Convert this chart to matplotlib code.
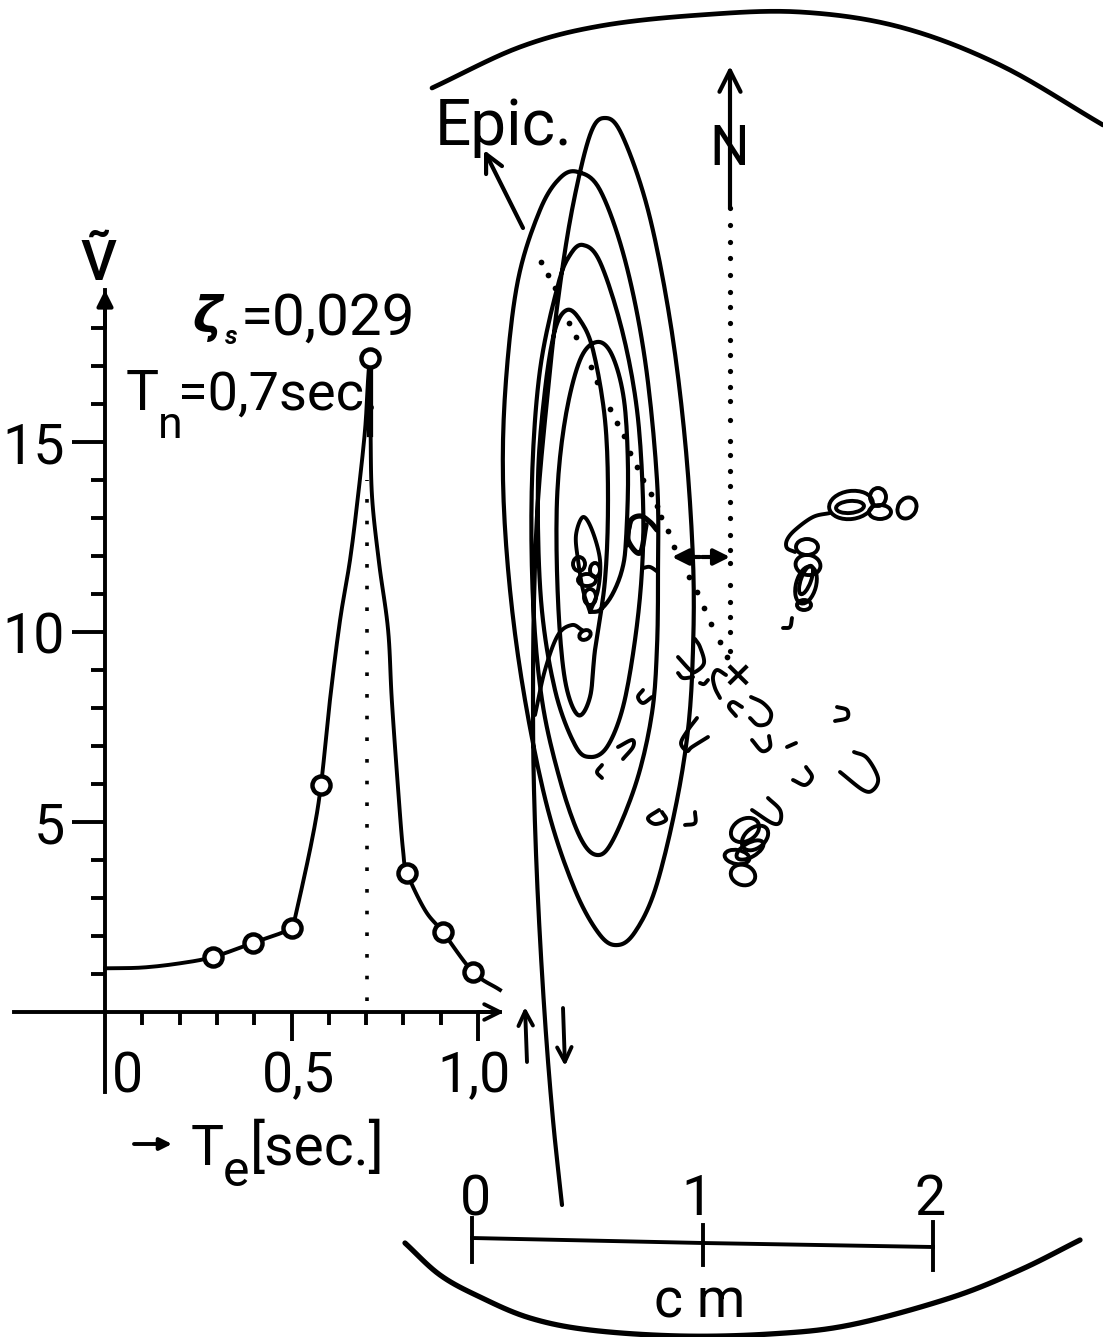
#!/usr/bin/env python3
import numpy as np
import matplotlib
matplotlib.use('Agg')
import matplotlib.pyplot as plt
from matplotlib.patches import Ellipse

plt.rcParams['font.family'] = ['Roboto', 'DejaVu Sans']

# resonance curve: T_e [sec], V, rising and falling side
rise_t = [0.0, 0.1, 0.2, 0.29, 0.397, 0.5, 0.51, 0.555, 0.579, 0.603, 0.63, 0.657, 0.678, 0.697, 0.705, 0.71]
rise_v = [1.15, 1.17, 1.28, 1.45, 1.82, 2.2, 2.5, 4.53, 5.97, 8.2, 10.3, 11.9, 13.55, 15.3, 16.6, 17.2]
fall_t = [0.71, 0.712, 0.716, 0.735, 0.759, 0.769, 0.786, 0.799, 0.81, 0.858, 0.906, 0.987, 1.059]
fall_v = [17.2, 15.3, 13.55, 11.8, 10.05, 8.2, 5.84, 4.26, 3.66, 2.68, 2.1, 1.05, 0.58]
points_t = [0.29, 0.397, 0.50, 0.579, 0.71, 0.81, 0.906, 0.987]
points_v = [1.45, 1.82, 2.2, 5.97, 17.2, 3.66, 2.1, 1.05]
t_natural = 0.702

# ground motion trace, in scan units (231 per cm)
spiral = [(562, 1205), (553, 1120), (545, 1020), (538, 900), (534, 790), (533, 700), (534, 600), (538, 500),
          (548, 390), (558, 300), (572, 210), (590, 135), (605, 118), (622, 135), (648, 210), (670, 320),
          (685, 440), (693, 560), (693, 650), (688, 730), (675, 810), (655, 890), (635, 932), (618, 945),
          (600, 935), (575, 890), (548, 810), (525, 700), (510, 590), (503, 480), (506, 380), (518, 280),
          (540, 210), (560, 178), (578, 172), (600, 190), (625, 260), (645, 360), (657, 480), (658, 570),
          (657, 647), (652, 713), (637, 780), (613, 840), (597, 855), (580, 837), (560, 780), (542, 700),
          (533, 600), (532, 480), (540, 370), (558, 285), (570, 255), (583, 245), (600, 262), (622, 330),
          (637, 410), (643, 500), (642, 570), (635, 640), (623, 707), (607, 747), (590, 757), (575, 745),
          (555, 690), (541, 600), (538, 480), (545, 390), (555, 330), (567, 310), (580, 320), (593, 350),
          (605, 420), (608, 500), (605, 580), (595, 650), (590, 697), (578, 715), (565, 680), (558, 600),
          (557, 500), (565, 420), (580, 360), (597, 342), (612, 355), (624, 400), (628, 470), (626, 540),
          (622, 570), (612, 595), (600, 610), (590, 612)]
stem = [(535, 715), (545, 670), (558, 635), (572, 625), (582, 630)]
thread = [(830, 513), (813, 517), (795, 530), (787, 540), (787, 548), (795, 552)]
blob = [(627, 545), (630, 522), (640, 516), (650, 522), (657, 530)]
blob2 = [(630, 522), (628, 540), (640, 553), (646, 525)]
link = [(643, 568), (650, 567), (658, 572)]
petal = [(590, 612), (583, 590), (578, 560), (576, 535), (583, 517), (592, 530), (600, 560), (598, 590), (590, 612)]

curls = [
    [(678, 657), (690, 670), (695, 672), (704, 663), (700, 647), (695, 639)],
    [(678, 673), (683, 678), (693, 677)],
    [(700, 683), (704, 684), (708, 680)],
    [(726, 675), (717, 670), (713, 677), (715, 688), (720, 698)],
    [(742, 707), (733, 702), (729, 707), (736, 716)],
    [(751, 697), (763, 703), (771, 713), (768, 723), (758, 725), (750, 718)],
    [(752, 740), (762, 751), (770, 747), (769, 736)],
    [(787, 747), (796, 743)],
    [(837, 707), (847, 710), (847, 718), (835, 721)],
    [(854, 752), (867, 758), (878, 778), (873, 790), (863, 790), (840, 772)],
    [(806, 767), (812, 777), (805, 785), (793, 780)],
    [(768, 798), (780, 810), (780, 822), (772, 823), (752, 810)],
    [(659, 810), (648, 818), (655, 824), (666, 820), (662, 812)],
    [(695, 812), (695, 823), (685, 825)],
    [(643, 690), (638, 697), (643, 703), (652, 697)],
    [(618, 747), (632, 740), (633, 747), (623, 759)],
    [(602, 765), (597, 772), (602, 778)],
    [(783, 628), (790, 627), (792, 618)],
    [(697, 718), (688, 730), (681, 743), (687, 751), (692, 747), (708, 737)],
]

# small loops: x, y, width, height, angle
loops = [(850, 507, 28, 12, -5), (851, 505, 44, 28, -8), (878, 497, 16, 18, 0), (880, 512, 22, 14, 0),
         (907, 508, 18, 22, 30), (807, 547, 22, 16, 0), (808, 565, 25, 20, 10), (806, 585, 20, 38, 15),
         (806, 580, 10, 30, 20), (804, 605, 14, 10, 0), (745, 830, 30, 22, -30), (755, 838, 30, 20, -40),
         (750, 850, 30, 14, -30), (737, 857, 25, 14, 10), (743, 875, 25, 20, 20), (579, 564, 12, 14, 0),
         (595, 570, 10, 14, 0), (587, 580, 18, 12, 0), (590, 597, 12, 16, 0), (585, 635, 12, 9, -30)]

north_dots_y = [208, 225, 242, 258, 275, 292, 307, 323, 340, 355, 371, 387, 401, 420, 441, 455, 471, 486, 502,
                518, 535, 550, 563, 585, 602, 617, 632, 651]
path_dots_x = [541, 548, 555, 569, 576, 591, 597, 610, 617, 624, 630, 637, 643, 651, 657, 661, 668, 674, 689,
               697, 704, 711, 720, 727]
path_dots_y = [262, 275, 288, 323, 337, 367, 382, 409, 423, 436, 453, 467, 480, 494, 506, 517, 531, 547, 577,
               592, 608, 624, 642, 657]

arc_top = [(432, 88), (520, 47), (600, 26), (700, 15), (800, 12), (900, 27), (1000, 65), (1103, 125)]
arc_bottom = [(405, 1243), (440, 1275), (480, 1297), (530, 1318), (590, 1330), (680, 1336), (770, 1334),
              (850, 1325), (950, 1298), (1020, 1270), (1080, 1240)]

scale_cm = [0, 1, 2]
scale_x = [472, 703, 933]
scale_y = [1238, 1243, 1247]
scale_top = [1218, 1225, 1222]
scale_bottom = [1262, 1265, 1270]
scale_label_x = [475, 697, 930]


def smooth(pts, n=10):
    # catmull-rom through the points
    p = np.array(pts, dtype=float)
    if len(p) < 3:
        return p[:, 0], p[:, 1]
    p = np.vstack([2 * p[0] - p[1], p, 2 * p[-1] - p[-2]])
    out = []
    for i in range(1, len(p) - 2):
        for s in np.linspace(0, 1, n, endpoint=False):
            out.append(0.5 * (2 * p[i] + (p[i + 1] - p[i - 1]) * s
                              + (2 * p[i - 1] - 5 * p[i] + 4 * p[i + 1] - p[i + 2]) * s ** 2
                              + (3 * p[i] - p[i - 1] - 3 * p[i + 1] + p[i + 2]) * s ** 3))
    out.append(p[-2])
    out = np.array(out)
    return out[:, 0], out[:, 1]


fig = plt.figure(figsize=(11.03, 13.37), dpi=100, facecolor='white')

# map part, whole canvas in scan units
ax = fig.add_axes([0, 0, 1, 1])
ax.set_xlim(0, 1103)
ax.set_ylim(1337, 0)
ax.axis('off')


def draw(pts, lw=2.8):
    x, y = smooth(pts)
    ax.plot(x, y, color='black', lw=lw, solid_capstyle='round', solid_joinstyle='round')


def arrow(start, end, style='-|>', lw=2.8, scale=24):
    ax.annotate('', xy=end, xytext=start,
                arrowprops=dict(arrowstyle=style, color='black', lw=lw, mutation_scale=scale,
                                shrinkA=0, shrinkB=0))


draw(spiral, 3.0)
for part in [stem, thread, link, petal]:
    draw(part)
for part in [blob, blob2]:
    draw(part, 3.8)
for c in curls:
    draw(c, 2.8)
for x, y, w, h, ang in loops:
    ax.add_patch(Ellipse((x, y), w, h, angle=ang, fill=False, ec='black', lw=2.8))

ax.scatter([730] * len(north_dots_y), north_dots_y, s=14, color='black', lw=0)
ax.scatter(path_dots_x, path_dots_y, s=17, color='black', lw=0)
ax.text(738, 676, '×', fontsize=26, fontweight='bold', ha='center', va='center', family='DejaVu Sans')

draw(arc_top, 3.4)
draw(arc_bottom, 3.8)

arrow((730, 208), (730, 66), style='->', scale=38, lw=3)
arrow((523, 228), (484, 150), style='->', scale=32, lw=3)
arrow((700, 557), (672, 557), style='-|>', lw=3, scale=24)
arrow((702, 557), (730, 557), style='-|>', lw=3, scale=24)
arrow((527, 1062), (525, 1007), style='->', scale=26)
arrow((563, 1008), (565, 1066), style='->', scale=26)
arrow((134, 1144), (172, 1144), style='-|>', scale=18)

ax.text(435, 145, 'Epic.', fontsize=46, va='baseline')
ax.text(729, 165, 'N', fontsize=40, ha='center', va='baseline')

ax.text(98, 280, 'Ṽ', fontsize=40, ha='center', va='baseline', fontweight='medium')
ax.text(207, 332, 'ζ', fontsize=36, fontweight='bold', style='italic', ha='center', va='baseline',
        family='DejaVu Sans')
ax.text(231, 344, 's', fontsize=18, fontweight='bold', style='italic', ha='center', va='baseline')
ax.text(241, 335, '=0,029', fontsize=42, va='baseline')
ax.text(126, 410, 'T', fontsize=40, va='baseline')
ax.text(158, 438, 'n', fontsize=32, va='baseline')
ax.text(178, 410, '=0,7sec.', fontsize=39, va='baseline')

ax.text(191, 1165, 'T', fontsize=40, va='baseline')
ax.text(223, 1186, 'e', fontsize=36, va='baseline')
ax.text(250, 1165, '[sec.]', fontsize=41, va='baseline')

# scale bar
ax.plot(scale_x, scale_y, color='black', lw=2.8)
for x, top, bottom, cm, lx in zip(scale_x, scale_top, scale_bottom, scale_cm, scale_label_x):
    ax.plot([x, x], [top, bottom], color='black', lw=2.8)
    ax.text(lx, 1215, str(cm), fontsize=40, ha='center', va='baseline')
ax.text(700, 1318, 'c m', fontsize=40, ha='center', va='baseline')

# resonance plot, same canvas but with its own scale
res = fig.add_axes([0, 0, 1, 1])
res.patch.set_alpha(0)
res.set_xlim(-105 / 373, 998 / 373)
res.set_ylim(-325 / 38, 1012 / 38)
for side in ['top', 'right']:
    res.spines[side].set_visible(False)
res.spines['left'].set_position(('data', 0))
res.spines['bottom'].set_position(('data', 0))
res.spines['left'].set_bounds(0, 19)
res.spines['bottom'].set_bounds(-0.245, 1.06)
res.spines['left'].set_linewidth(2.8)
res.spines['bottom'].set_linewidth(2.8)
res.set_xticks([0.5, 1.0])
res.set_xticklabels([])
res.set_xticks([0.1, 0.2, 0.3, 0.4, 0.6, 0.7, 0.8, 0.9], minor=True)
res.set_yticks([5, 10, 15])
res.set_yticklabels(['5', '10', '15'], fontsize=40)
res.set_yticks([i for i in range(1, 19) if i % 5], minor=True)
res.tick_params(axis='x', which='major', length=21, width=2.8)
res.tick_params(axis='x', which='minor', length=9, width=2.8)
res.tick_params(axis='y', which='major', length=24, width=2.8, pad=5)
res.tick_params(axis='y', which='minor', length=10, width=2.8)

res.plot([0, 0], [0, -2.1], color='black', lw=2.8)
res.annotate('', xy=(1.07, 0), xytext=(1.0, 0), arrowprops=dict(arrowstyle='->', color='black', lw=2.8,
                                                                 mutation_scale=28, shrinkA=0, shrinkB=0))
res.annotate('', xy=(0, 19.0), xytext=(0, 18), arrowprops=dict(arrowstyle='-|>', color='black', lw=2.8,
                                                                mutation_scale=24, shrinkA=0, shrinkB=0))
res.plot([t_natural, t_natural], [0.3, 14], color='black', lw=2.6, linestyle=(0, (1, 5)))
for ts, vs in [(rise_t, rise_v), (fall_t, fall_v)]:
    res.plot(*smooth(list(zip(ts, vs))), color='black', lw=2.8, solid_joinstyle='round')
res.plot([0.71, 0.71], [15.2, 17.2], color='black', lw=4.5)
res.plot(points_t, points_v, 'o', ms=13, mfc='white', mec='black', mew=3.2)

for x, lab in zip([0.059, 0.52, 0.99], ['0', '0,5', '1,0']):
    res.text(x, -2.12, lab, fontsize=40, ha='center', va='baseline')

fig.savefig('out.png', dpi=100, facecolor='white')
